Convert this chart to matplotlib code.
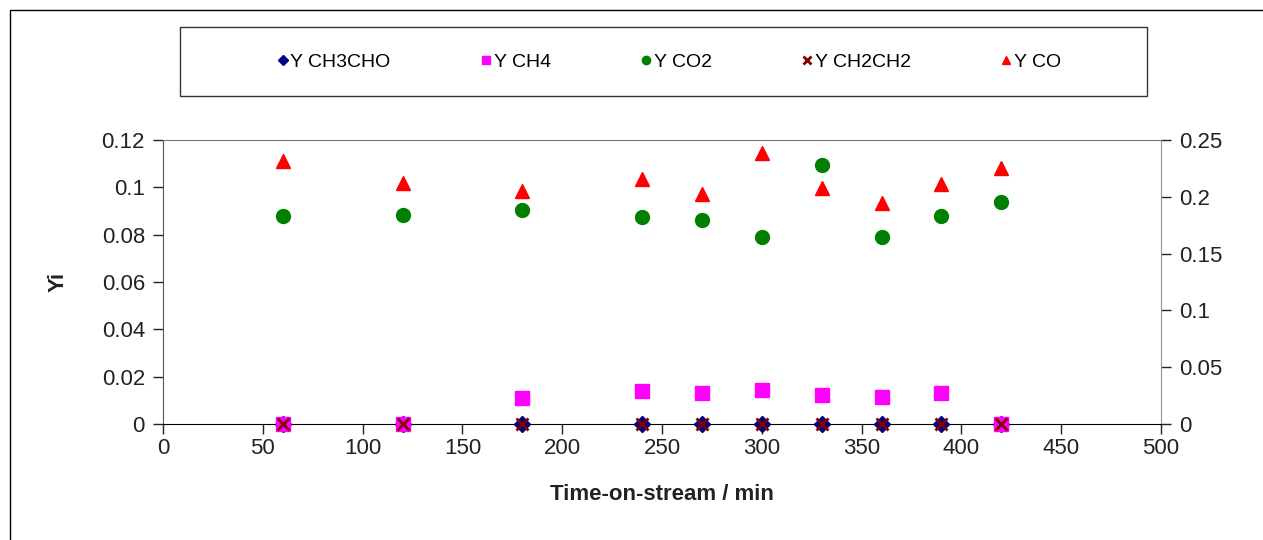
import matplotlib.pyplot as plt
from matplotlib.patches import Rectangle

plt.rcParams['font.family'] = ['Liberation Sans', 'DejaVu Sans']

# Time-on-stream (min)
time_min = [60, 120, 180, 240, 270, 300, 330, 360, 390, 420]

# Yields
y_ch3cho = [0, 0, 0, 0, 0, 0, 0, 0, 0, 0]
y_ch4 = [0, 0, 0.011, 0.014, 0.0131, 0.0144, 0.0123, 0.0114, 0.0131, 0]
y_co2 = [0.088, 0.0883, 0.0904, 0.0875, 0.0862, 0.079, 0.1094, 0.079, 0.088, 0.0938]
y_ch2ch2 = [0, 0, 0, 0, 0, 0, 0, 0, 0, 0]
y_co = [0.111, 0.102, 0.0984, 0.1035, 0.097, 0.1145, 0.0997, 0.0934, 0.1014, 0.108]

W, H = 1263, 540
fig = plt.figure(figsize=(W / 100, H / 100), dpi=100)
ax = fig.add_axes([163 / W, 1 - 424 / H, (1161 - 163) / W, (424 - 140) / H])

# markers sitting on y=0 must not be clipped by the axes
ax.plot(time_min, y_ch3cho, linestyle='none', marker='D', markersize=8,
        color='#000080', label='Y CH3CHO', clip_on=False, zorder=3)
ax.plot(time_min, y_ch4, linestyle='none', marker='s', markersize=10,
        color='#FF00FF', label='Y CH4', clip_on=False, zorder=3)
ax.plot(time_min, y_co2, linestyle='none', marker='o', markersize=10,
        color='#008000', label='Y CO2', clip_on=False, zorder=3)
ax.plot(time_min, y_ch2ch2, linestyle='none', marker='x', markersize=9,
        markeredgewidth=2, color='#800000', label='Y CH2CH2', clip_on=False, zorder=3)
ax.plot(time_min, y_co, linestyle='none', marker='^', markersize=10,
        color='#FF0000', label='Y CO', clip_on=False, zorder=3)

ax.set_xlim(0, 500)
ax.set_ylim(0, 0.12)
ax.set_xticks(range(0, 501, 50))
ax.set_yticks([0, 0.02, 0.04, 0.06, 0.08, 0.1, 0.12])
ax.set_yticklabels(['0', '0.02', '0.04', '0.06', '0.08', '0.1', '0.12'])
ax.tick_params(axis='both', labelsize=16, colors='#222222', direction='out', length=7, width=1)
ax.tick_params(axis='x', pad=3)
ax.tick_params(axis='y', pad=6)

ax.spines['bottom'].set_color('black')
ax.spines['left'].set_color('#555555')
ax.spines['top'].set_color('#777777')
ax.spines['right'].set_color('#999999')

ax.set_xlabel('Time-on-stream / min', fontsize=16, fontweight='bold', labelpad=18, color='#222222')
ax.set_ylabel('Yi', fontsize=16, fontweight='bold', labelpad=24, color='#222222')

ax2 = ax.twinx()
ax2.set_ylim(0, 0.25)
ax2.set_yticks([0, 0.05, 0.1, 0.15, 0.2, 0.25])
ax2.set_yticklabels(['0', '0.05', '0.1', '0.15', '0.2', '0.25'])
ax2.tick_params(axis='y', labelsize=16, colors='#222222', direction='out', length=7, width=1, pad=6)
for s in ax2.spines.values():
    s.set_visible(False)
ax2.spines['right'].set_visible(True)
ax2.spines['right'].set_color('#999999')
for t in ax2.yaxis.get_ticklines():
    t.set_color('#999999')
ax.set_zorder(ax2.get_zorder() + 1)
ax.patch.set_visible(False)

# legend box drawn separately, entries centred inside it
fig.patches.append(Rectangle((180 / W, 1 - 96 / H), (1147 - 180) / W, 69 / H,
                             transform=fig.transFigure, fill=False,
                             edgecolor='#333333', linewidth=1))
leg = ax.legend(loc='center', bbox_to_anchor=(669 / W, 1 - 62 / H),
                bbox_transform=fig.transFigure, ncol=5, frameon=False,
                fontsize=14, handlelength=0.6, handletextpad=0.1,
                columnspacing=4.6, markerscale=0.6)

# outer chart frame
fig.patches.append(Rectangle((10 / W, -0.02), 1.05, 1 - 10 / H + 0.02,
                             transform=fig.transFigure, fill=False,
                             edgecolor='black', linewidth=1))

fig.savefig('out.png', dpi=100)
